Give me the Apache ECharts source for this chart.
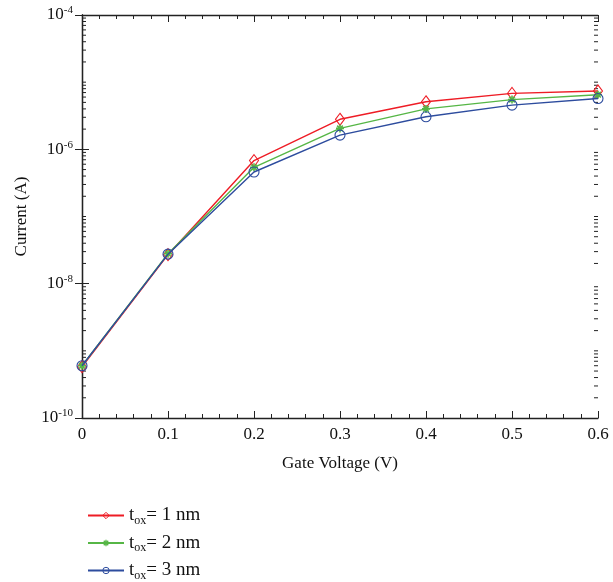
<!DOCTYPE html>
<html><head><meta charset="utf-8">
<script src="https://cdn.jsdelivr.net/npm/echarts@6/dist/echarts.min.js"></script>
<style>html,body{margin:0;padding:0;background:#fff}#c{width:613px;height:582px}</style>
</head><body><div id="c"></div>
<script>
var gateVoltage = [0, 0.1, 0.2, 0.3, 0.4, 0.5, 0.6];
var current1nm = [5.8e-10, 2.7e-8, 6.8e-7, 2.8e-6, 5.1e-6, 6.8e-6, 7.4e-6];
var current2nm = [6.0e-10, 2.8e-8, 5.4e-7, 2.05e-6, 4.0e-6, 5.5e-6, 6.5e-6];
var current3nm = [6.0e-10, 2.75e-8, 4.6e-7, 1.63e-6, 3.05e-6, 4.55e-6, 5.7e-6];
var seriesNames = ['1 nm', '2 nm', '3 nm'];
var xTicks = [0, 0.1, 0.2, 0.3, 0.4, 0.5, 0.6];
var yExponents = [-10, -8, -6, -4];

var FONT = 'Liberation Serif';
var colors = ['#ee1c25', '#56b646', '#2d4c9e'];

function pairs(ys) { return gateVoltage.map(function (x, i) { return [x, ys[i]]; }); }

var minorTicks = [];
for (var k = -10; k < -4; k++) {
  for (var m = 1; m <= 9; m++) {
    if (m === 1 && (k % 2 === 0)) continue;
    minorTicks.push([0, m * Math.pow(10, k)]);
  }
}

var asterisk = 'path://M-1,-5L1,-5L1,5L-1,5Z M-5,-1L5,-1L5,1L-5,1Z M-2.83,-4.24L4.24,2.83L2.83,4.24L-4.24,-2.83Z M-4.24,2.83L2.83,-4.24L4.24,-2.83L-2.83,4.24Z';

var chart = echarts.init(document.getElementById('c'), null, {renderer: 'canvas'});
var axisLine = {show: true, lineStyle: {color: '#222', width: 1.3}};
chart.setOption({
  animation: false,
  backgroundColor: '#fff',
  textStyle: {fontFamily: FONT},
  grid: {left: 82, right: 15, top: 15, bottom: 164, containLabel: false},
  legend: {
    orient: 'vertical', left: 82, top: 501, height: 120, itemWidth: 36, itemHeight: 8, itemGap: 7,
    data: [
      {name: seriesNames[0], itemStyle: {color: 'rgba(0,0,0,0)', borderColor: colors[0], borderWidth: 1}},
      {name: seriesNames[1]},
      {name: seriesNames[2], itemStyle: {color: 'rgba(0,0,0,0)', borderColor: colors[2], borderWidth: 1}}
    ],
    formatter: function (n) { return '{t|t}{sub|ox}{t|= ' + n + '}'; },
    textStyle: {
      fontFamily: FONT, color: '#111', padding: [0, 0, 0, 0],
      rich: {
        t: {fontFamily: FONT, fontSize: 19, color: '#111'},
        sub: {fontFamily: FONT, fontSize: 12, color: '#111', padding: [10, 0, 0, 0]}
      }
    }
  },
  xAxis: [{
    type: 'value', min: 0, max: 0.6, interval: 0.1,
    axisLine: axisLine,
    axisTick: {inside: true, length: 7, lineStyle: {color: '#222'}},
    minorTick: {show: true, splitNumber: 5, length: 4, lineStyle: {color: '#222'}},
    splitLine: {show: false},
    axisLabel: {fontFamily: FONT, fontSize: 17, color: '#111', margin: 8,
      formatter: function (v) { return xTicks.indexOf(Math.round(v * 10) / 10) >= 0 ? String(Math.round(v * 10) / 10) : ''; }},
    name: 'Gate Voltage (V)', nameLocation: 'middle', nameGap: 37,
    nameTextStyle: {fontFamily: FONT, fontSize: 17, color: '#111'}
  }, {
    type: 'value', position: 'top', min: 0, max: 0.6, interval: 0.1,
    axisLine: axisLine,
    axisTick: {inside: true, length: 7, lineStyle: {color: '#222'}},
    minorTick: {show: true, splitNumber: 5, length: 4, lineStyle: {color: '#222'}},
    splitLine: {show: false}, axisLabel: {show: false}
  }],
  yAxis: [{
    type: 'log', logBase: 10, min: 1e-10, max: 1e-4, interval: 2,
    axisLine: axisLine,
    axisTick: {inside: true, length: 7, lineStyle: {color: '#222'}},
    minorTick: {show: false},
    splitLine: {show: false},
    axisLabel: {fontFamily: FONT, color: '#111', margin: 9,
      formatter: function (v) {
        var e = Math.round(Math.log10(v));
        if (yExponents.indexOf(e) < 0) return '';
        return '{b|10}{s|' + e + '}';
      },
      rich: {
        b: {fontFamily: FONT, fontSize: 17, color: '#111'},
        s: {fontFamily: FONT, fontSize: 11, color: '#111', padding: [0, 0, 9, 0]}
      }
    },
    name: 'Current (A)', nameLocation: 'middle', nameGap: 52,
    nameTextStyle: {fontFamily: FONT, fontSize: 17, color: '#111'}
  }, {
    type: 'log', logBase: 10, min: 1e-10, max: 1e-4, interval: 2, position: 'right',
    axisLine: axisLine,
    axisTick: {inside: true, length: 7, lineStyle: {color: '#222'}},
    splitLine: {show: false}, axisLabel: {show: false}
  }],
  series: [{
    type: 'custom', silent: true, clip: false, legendHoverLink: false,
    data: minorTicks,
    renderItem: function (params, api) {
      var v = api.value(1);
      var l = api.coord([0, v]);
      var r = api.coord([0.6, v]);
      return {type: 'group', children: [
        {type: 'line', shape: {x1: l[0], y1: l[1], x2: l[0] + 4, y2: l[1]}, style: {stroke: '#222', lineWidth: 1}},
        {type: 'line', shape: {x1: r[0], y1: r[1], x2: r[0] - 4, y2: r[1]}, style: {stroke: '#222', lineWidth: 1}}
      ]};
    }
  }, {
    name: '1 nm', type: 'line', data: pairs(current1nm), color: colors[0],
    symbol: 'diamond', symbolSize: [9, 12], showAllSymbol: true,
    lineStyle: {width: 1.4, color: colors[0]},
    itemStyle: {color: 'rgba(0,0,0,0)', borderColor: colors[0], borderWidth: 1.1}, z: 3
  }, {
    name: '2 nm', type: 'line', data: pairs(current2nm), color: colors[1],
    symbol: asterisk, symbolSize: 8,
    lineStyle: {width: 1.4, color: colors[1]}, itemStyle: {color: colors[1], borderWidth: 0}, z: 4
  }, {
    name: '3 nm', type: 'line', data: pairs(current3nm), color: colors[2],
    symbol: 'circle', symbolSize: 10,
    lineStyle: {width: 1.4, color: colors[2]},
    itemStyle: {color: 'rgba(0,0,0,0)', borderColor: colors[2], borderWidth: 1.1}, z: 5
  }]
});
</script></body></html>
